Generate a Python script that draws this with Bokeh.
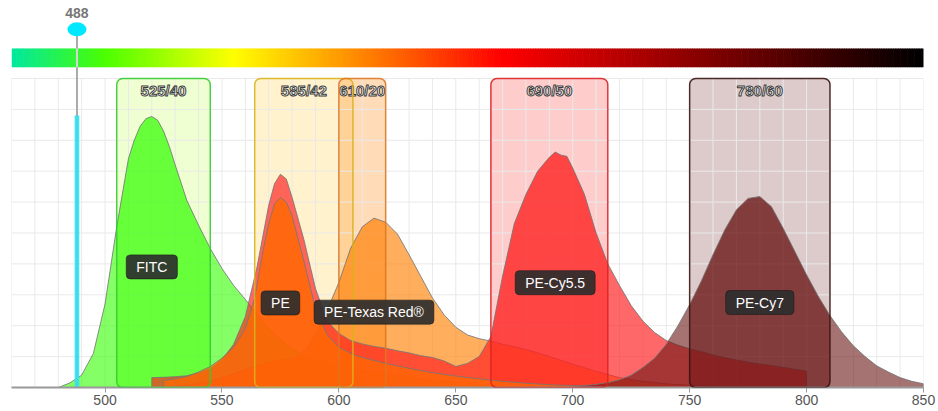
import numpy as np
from bokeh.plotting import figure
from bokeh.models import Range1d, BoxAnnotation, Label, FixedTicker, Text
from bokeh.core.properties import value
from bokeh.embed import file_html
from bokeh.resources import INLINE

# ---------------- data ----------------
x_start, x_end = 460, 850
tick_values = [500, 550, 600, 650, 700, 750, 800, 850]

laser_nm = [488]
laser_power = [0.88]
laser_labels = ["488"]

dye_names = ["FITC", "PE", "PE-Texas Red®", "PE-Cy5.5", "PE-Cy7"]
filter_names = ["525/40", "585/42", "610/20", "690/50", "780/60"]
filter_lo = [505, 564, 600, 665, 750]
filter_hi = [545, 606, 620, 715, 810]

fitc_nm = [480, 485, 490, 495, 500, 505, 510, 512.5, 515, 517.5, 520, 522.5, 525, 527.5, 530, 535, 540,
           545, 550, 555, 560, 565, 570, 575, 580, 585, 590, 600, 610, 620, 630, 640, 650, 660, 670, 680]
fitc_em = [0.0, 0.015, 0.04, 0.11, 0.27, 0.52, 0.74, 0.80, 0.845, 0.87, 0.877, 0.865, 0.83, 0.78, 0.72, 0.605, 0.525,
           0.45, 0.385, 0.33, 0.285, 0.235, 0.19, 0.155, 0.125, 0.105, 0.09, 0.07, 0.055, 0.045, 0.035, 0.025, 0.018, 0.01, 0.005, 0.0]

pe_nm = [525, 530, 535, 540, 545, 550, 555, 560, 564, 567.5, 570, 572.5, 575, 577.5, 580, 585, 590, 595, 600,
         606, 610, 620, 630, 640, 650, 660, 670, 680, 690, 700, 710, 720]
pe_em = [0.023, 0.028, 0.036, 0.05, 0.068, 0.095, 0.13, 0.19, 0.29, 0.44, 0.53, 0.595, 0.615, 0.6, 0.555, 0.41, 0.255, 0.17, 0.13,
         0.107, 0.097, 0.078, 0.062, 0.048, 0.037, 0.028, 0.02, 0.014, 0.009, 0.006, 0.003, 0.0]

tr_nm = [530, 535, 540, 545, 550, 555, 560, 565, 570, 575, 580, 585, 590, 595, 600, 605, 610, 615, 620, 625, 630,
         635, 640, 645, 650, 655, 660, 665, 670, 675, 680, 685, 690, 695, 700, 705, 710, 715, 720, 730, 740, 750,
         760, 770, 780]
tr_em = [0.004, 0.007, 0.012, 0.02, 0.032, 0.045, 0.058, 0.07, 0.082, 0.09, 0.093, 0.115, 0.17, 0.25, 0.34, 0.45, 0.52,
         0.548, 0.535, 0.497, 0.43, 0.36, 0.29, 0.235, 0.195, 0.17, 0.158, 0.15, 0.14, 0.132, 0.123, 0.112, 0.1, 0.088,
         0.075, 0.064, 0.052, 0.042, 0.032, 0.02, 0.012, 0.007, 0.004, 0.002, 0.0]

cy55_nm = [520, 525, 530, 535, 540, 545, 550, 555, 560, 565, 570, 572.5, 575, 577.5, 580, 585, 590, 595, 600, 605,
           610, 615, 620, 625, 630, 635, 640, 645, 650, 655, 660, 665, 670, 675, 680, 685, 690, 692.5, 695, 697.5,
           700, 705, 710, 715, 720, 725, 730, 735, 740, 745, 750, 755, 760, 765, 770, 775, 780, 785, 790, 795, 800]
cy55_em = [0.032, 0.033, 0.035, 0.038, 0.047, 0.06, 0.09, 0.14, 0.23, 0.39, 0.59, 0.66, 0.69, 0.675, 0.615, 0.48, 0.32,
           0.215, 0.175, 0.152, 0.141, 0.133, 0.127, 0.119, 0.112, 0.103, 0.097, 0.086, 0.068, 0.078, 0.1, 0.165, 0.36,
           0.53, 0.625, 0.7, 0.745, 0.762, 0.752, 0.748, 0.71, 0.625, 0.5, 0.4, 0.33, 0.265, 0.215, 0.178, 0.152,
           0.137, 0.125, 0.116, 0.105, 0.097, 0.089, 0.082, 0.076, 0.071, 0.065, 0.059, 0.053]

cy7_nm = [700, 710, 715, 720, 725, 730, 735, 740, 745, 750, 755, 760, 765, 770, 775, 780, 785, 790, 795, 800, 805,
          810, 815, 820, 825, 830, 835, 840, 845, 850]
cy7_em = [0.003, 0.01, 0.016, 0.025, 0.04, 0.065, 0.095, 0.14, 0.2, 0.268, 0.345, 0.43, 0.51, 0.575, 0.612, 0.618,
          0.585, 0.515, 0.44, 0.365, 0.295, 0.233, 0.18, 0.135, 0.1, 0.07, 0.05, 0.032, 0.02, 0.012]

# wavelength colour bar stops
grad_nm = [460, 500, 555, 670, 850]
grad_colors = ["#00e8a0", "#4cff00", "#ffff00", "#ff0000", "#000000"]

# ---------------- styles ----------------
FONT = "Liberation Sans"
dye_colors = {"FITC": "#33ff00", "PE": "#ff6a00", "PE-Texas Red®": "#ff8c1a", "PE-Cy5.5": "#ff2020", "PE-Cy7": "#6b1515"}
dye_alpha = {"FITC": 0.6, "PE": 0.72, "PE-Texas Red®": 0.7, "PE-Cy5.5": 0.68, "PE-Cy7": 0.6}
dye_hi_alpha = {"FITC": 0.3, "PE": 0.3, "PE-Texas Red®": 0.3, "PE-Cy5.5": 0.35, "PE-Cy7": 0.45}
box_fill = ["#ccff66", "#ffcc33", "#ff9933", "#ff3333", "#661111"]
box_fill_alpha = [0.3, 0.25, 0.35, 0.25, 0.22]
box_edge = ["#33cc33", "#d9b21a", "#dd7722", "#dd2222", "#3a1414"]

Y_TOP = 1.2524

p = figure(width=938, height=411, x_range=Range1d(x_start, x_end), y_range=Range1d(0, Y_TOP),
           output_backend="svg", toolbar_location=None, y_axis_location=None,
           min_border_left=11, min_border_right=15, min_border_top=0, min_border_bottom=24)
p.outline_line_color = None
p.grid.visible = False
p.background_fill_color = "white"

# grid (only inside the chart area)
gx = np.arange(x_start, x_end + 1, 10)
p.segment(x0=gx, y0=0, x1=gx, y1=1.0, line_color="#e9e9e9", line_width=1)
gy = np.round(np.arange(0.1, 1.0001, 0.1), 3)
p.segment(x0=x_start, y0=gy, x1=x_end, y1=gy, line_color="#e9e9e9", line_width=1)

# filter box fills (under spectra)
for lo, hi, fc, fa in zip(filter_lo, filter_hi, box_fill, box_fill_alpha):
    p.add_layout(BoxAnnotation(left=lo, right=hi, bottom=0, top=1.0, fill_color=fc, fill_alpha=fa,
                               line_color=None, border_radius=6, level="underlay"))

# spectra
spectra = {"FITC": (fitc_nm, fitc_em), "PE": (pe_nm, pe_em), "PE-Texas Red®": (tr_nm, tr_em),
           "PE-Cy5.5": (cy55_nm, cy55_em), "PE-Cy7": (cy7_nm, cy7_em)}
dye_filter = dict(zip(dye_names, zip(filter_lo, filter_hi)))
draw_order = ["FITC", "PE-Texas Red®", "PE-Cy5.5", "PE", "PE-Cy7"]
for name in draw_order:
    nm = np.array(spectra[name][0], float)
    em = np.array(spectra[name][1], float)
    c = dye_colors[name]
    p.varea(x=nm, y1=0, y2=em, fill_color=c, fill_alpha=dye_alpha[name])
    lo, hi = dye_filter[name]
    m = (nm >= lo) & (nm <= hi)
    p.varea(x=nm[m], y1=0, y2=em[m], fill_color=c, fill_alpha=dye_hi_alpha[name])
    xs = np.concatenate([[nm[0]], nm, [nm[-1]]])
    ys = np.concatenate([[0.0], em, [0.0]])
    p.line(xs, ys, line_color="#777777", line_width=1, line_alpha=0.85)

# filter box edges (on top)
for lo, hi, ec in zip(filter_lo, filter_hi, box_edge):
    p.add_layout(BoxAnnotation(left=lo, right=hi, bottom=0, top=1.0, fill_alpha=0, line_color=ec,
                               line_width=1.5, line_alpha=0.9, border_radius=6))

# wavelength colour bar
gn = np.arange(x_start, x_end, 1.0)
gstops = np.array(grad_nm, float)
rgb = np.array([[int(h[1:3], 16), int(h[3:5], 16), int(h[5:7], 16)] for h in grad_colors], float)
cols = []
for w in gn + 0.5:
    r = np.interp(w, gstops, rgb[:, 0]); g = np.interp(w, gstops, rgb[:, 1]); b = np.interp(w, gstops, rgb[:, 2])
    cols.append("#%02x%02x%02x" % (int(r), int(g), int(b)))
p.quad(left=gn, right=gn + 1.3, bottom=1.036, top=1.097, fill_color=cols, line_color=None)

# laser
p.segment(x0=laser_nm, y0=0, x1=laser_nm, y1=1.155, line_color="#aaaaaa", line_width=2)
p.segment(x0=laser_nm, y0=1.036, x1=laser_nm, y1=1.097, line_color="white", line_width=2, line_alpha=0.5)
p.vbar(x=laser_nm, width=2.0, bottom=0, top=laser_power, fill_color="#33e0ee", fill_alpha=0.9, line_color=None)
p.ellipse(x=laser_nm, y=1.159, width=19, height=14, width_units="screen", height_units="screen",
          fill_color="#00e8ff", line_color=None)
p.text(x=laser_nm, y=1.213, text=laser_labels, text_align="center", text_baseline="middle",
       text_font=value(FONT), text_font_size="14px", text_font_style="bold", text_color="#777777")

# filter labels (white with dark outline)
fcent = [(a + b) / 2 for a, b in zip(filter_lo, filter_hi)]
has_outline = "text_outline_color" in Text.properties()
if has_outline:
    p.text(x=fcent, y=0.961, text=filter_names, text_align="center", text_baseline="middle",
           text_font=value(FONT), text_font_size="15px", text_font_style="bold",
           text_color="#ffffff", text_outline_color="#3c3c3c")
else:
    for dx, dy in [(-1, -1), (1, -1), (-1, 1), (1, 1)]:
        p.text(x=fcent, y=0.961, text=filter_names, x_offset=dx, y_offset=dy, text_align="center",
               text_baseline="middle", text_font=value(FONT), text_font_size="15px",
               text_font_style="bold", text_color="#3c3c3c")
    p.text(x=fcent, y=0.961, text=filter_names, text_align="center", text_baseline="middle",
           text_font=value(FONT), text_font_size="15px", text_font_style="bold", text_color="#ffffff")

# dye labels
for name in dye_names:
    nm = np.array(spectra[name][0], float)
    em = np.array(spectra[name][1], float)
    i = int(np.argmax(em))
    p.add_layout(Label(x=nm[i], y=0.445 * em[i], text=name, text_align="center", text_baseline="middle",
                       text_font=FONT, text_font_size="14px", text_color="white",
                       background_fill_color="#2e2e2e", background_fill_alpha=0.92,
                       border_line_color="#1a1a1a", border_line_alpha=0.6,
                       padding=dict(left=10, right=10, top=4, bottom=4), border_radius=4))

# x axis
ax = p.xaxis[0]
ax.ticker = FixedTicker(ticks=tick_values)
ax.axis_line_color = "#999999"
ax.axis_line_width = 2
ax.major_tick_line_color = "#999999"
ax.major_tick_in = 0
ax.major_tick_out = 5
ax.minor_tick_out = 0
ax.minor_tick_in = 0
ax.major_label_standoff = 2
ax.major_label_text_font = FONT
ax.major_label_text_font_size = "14px"
ax.major_label_text_color = "#555555"

open("out.html", "w").write(file_html(p, INLINE))
